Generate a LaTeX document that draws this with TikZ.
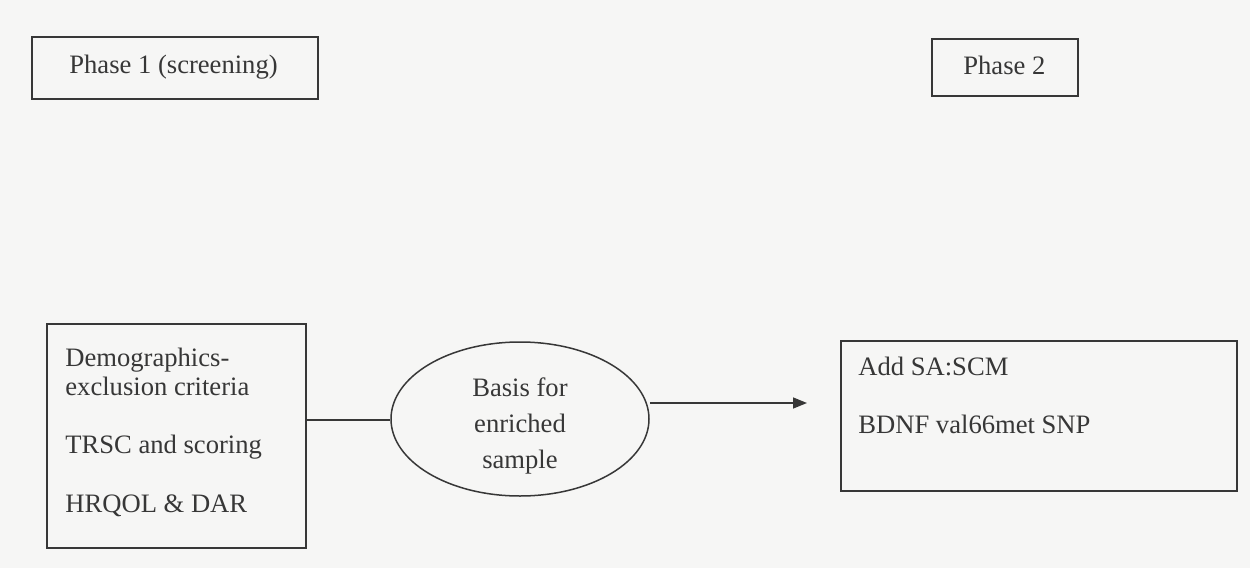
\documentclass[tikz,border=0pt]{standalone}
\usepackage{fontspec}
\setmainfont{Liberation Serif}
\usetikzlibrary{shapes.geometric,arrows.meta}
\definecolor{ink}{RGB}{55,55,55}
\definecolor{paper}{RGB}{246,246,245}
\begin{document}
\begin{tikzpicture}[x=0.5pt,y=-0.5pt,
  box/.style={draw=ink,line width=0.75pt,rectangle,inner sep=0pt},
  lbl/.style={anchor=base west,inner sep=0pt,text=ink,font=\fontsize{13.3pt}{15pt}\selectfont},
  clbl/.style={anchor=base,inner sep=0pt,text=ink,font=\fontsize{13.3pt}{15pt}\selectfont},
  conn/.style={draw=ink,line width=0.75pt}]
\fill[paper] (0,0) rectangle (1250,568);
\useasboundingbox (0,0) rectangle (1250,568);
% boxes
\node[box,minimum width=143pt,minimum height=31pt] (p1) at (175,68) {};
\node[box,minimum width=73pt,minimum height=28.5pt] (p2) at (1005,67.5) {};
\node[box,minimum width=129.5pt,minimum height=112pt] (left) at (176.5,436) {};
\node[box,minimum width=198pt,minimum height=75pt] (right) at (1039,416) {};
\node[draw=ink,line width=0.75pt,ellipse,inner sep=0pt,minimum width=129pt,minimum height=77pt] (ell) at (520,419) {};
% texts
\node[lbl] (t1) at (69,73) {Phase 1 (screening)};
\node[lbl] (t2) at (963,74) {Phase 2};
\node[lbl] (l1) at (65,366) {Demographics-};
\node[lbl] (l2) at (65,395) {exclusion criteria};
\node[lbl] (l3) at (65,453) {TRSC and scoring};
\node[lbl] (l4) at (65,512) {HRQOL \& DAR};
\node[lbl] (r1) at (858,375) {Add SA:SCM};
\node[lbl] (r2) at (858,433) {BDNF val66met SNP};
\node[clbl] (e1) at (520,396) {Basis for};
\node[clbl] (e2) at (520,432) {enriched};
\node[clbl] (e3) at (520,468) {sample};
% connectors
\coordinate (tip) at (807,403);
\draw[conn] (left.east |- 0,420) -- (ell.west |- 0,420);
\draw[conn,-{Triangle[length=7pt,width=5.5pt]}] (ell.east |- tip) -- (tip);
\end{tikzpicture}
\end{document}
